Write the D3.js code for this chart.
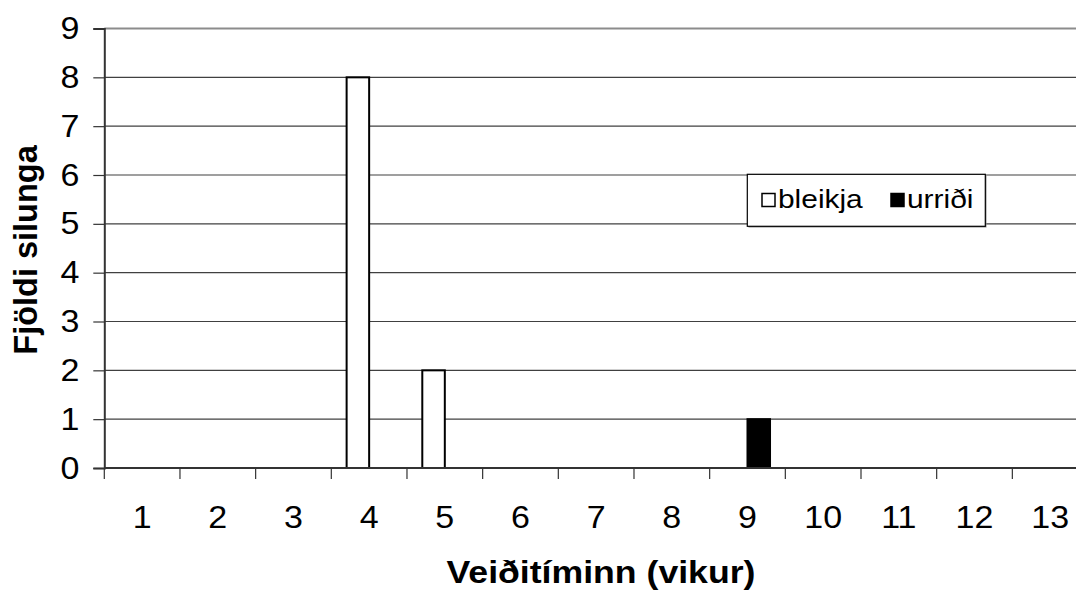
<!DOCTYPE html>
<html>
<head>
<meta charset="utf-8">
<script src="https://cdn.jsdelivr.net/npm/d3@7"></script>
<style>
  html, body { margin: 0; padding: 0; background: #fff; }
  svg { display: block; font-family: Arial, "Liberation Sans", sans-serif; }
</style>
</head>
<body>
<svg id="chart" width="1076" height="592"></svg>
<script>
// Veiðitíminn (vikur) – fjöldi silunga eftir tegund
const weeks = ["1","2","3","4","5","6","7","8","9","10","11","12","13"];
const seriesNames = ["bleikja", "urriði"];
const bleikja = [0,0,0,8,2,0,0,0,0,0,0,0,0];
const urridi  = [0,0,0,0,0,0,0,0,1,0,0,0,0];
const yTicks = [0,1,2,3,4,5,6,7,8,9];
const seriesFill = ["#ffffff", "#000000"];

const svg = d3.select("#chart");
const plotLeft = 104.3, plotBottom = 468, plotTop = 28.5;
const step = 75.67;
const plotRight = plotLeft + step * weeks.length;
const wide = 1.15;     // horizontal widening for upright titles/legend text
const tickWide = 1.08; // horizontal widening for tick labels

const x = d3.scaleBand().domain(weeks).range([plotLeft, plotRight]).paddingInner(0).paddingOuter(0);
const xs = d3.scaleBand().domain(seriesNames).range([0, x.bandwidth()]).paddingInner(0).paddingOuter(0.68);
const y = d3.scaleLinear().domain([0, 9]).range([plotBottom, plotTop]);

// horizontal grid lines
svg.append("g").selectAll("line").data(yTicks.filter(d => d > 0)).join("line")
  .attr("x1", plotLeft).attr("x2", plotRight)
  .attr("y1", d => y(d)).attr("y2", d => y(d))
  .attr("stroke", d => d === 9 ? "#8c8c8c" : "#404040")
  .attr("stroke-width", d => d === 9 ? 2 : 1.2);

// bars
const rows = weeks.map((w, i) => ({ week: w, values: [bleikja[i], urridi[i]] }));
const groups = svg.append("g").selectAll("g").data(rows).join("g")
  .attr("transform", d => `translate(${x(d.week)},0)`);
groups.selectAll("rect")
  .data(d => d.values.map((v, j) => ({ key: seriesNames[j], v, j })).filter(e => e.v > 0))
  .join("rect")
  .attr("x", e => xs(e.key))
  .attr("width", xs.bandwidth())
  .attr("y", e => y(e.v))
  .attr("height", e => y(0) - y(e.v))
  .attr("fill", e => seriesFill[e.j])
  .attr("stroke", "#000")
  .attr("stroke-width", 2);

// y axis
const yAxis = d3.axisLeft(y).tickValues(yTicks).tickSize(11).tickPadding(12).tickFormat(d3.format("d"));
const gy = svg.append("g").attr("transform", `translate(${plotLeft},0)`).call(yAxis);
gy.select(".domain").attr("stroke", "#333").attr("stroke-width", 2);
gy.selectAll(".tick line").attr("stroke", "#333").attr("stroke-width", 1.2);
gy.selectAll(".tick text").attr("font-size", 31.5).attr("fill", "#000")
  .attr("font-family", "Arial, 'Liberation Sans', sans-serif")
  .attr("transform", `scale(${tickWide},1)`);

// x axis: line with ticks at category boundaries
svg.append("line").attr("x1", plotLeft).attr("x2", plotRight).attr("y1", plotBottom).attr("y2", plotBottom)
  .attr("stroke", "#333").attr("stroke-width", 2);
const bounds = weeks.map(w => x(w));
svg.append("g").selectAll("line").data(bounds).join("line")
  .attr("x1", d => d).attr("x2", d => d).attr("y1", plotBottom).attr("y2", plotBottom + 11)
  .attr("stroke", "#333").attr("stroke-width", 1.2);
svg.append("g").selectAll("text").data(weeks).join("text")
  .attr("transform", d => `translate(${x(d) + x.bandwidth() / 2},528) scale(${tickWide},1)`)
  .attr("text-anchor", "middle")
  .attr("font-size", 31.5)
  .text(d => d);

// axis titles
svg.append("text")
  .attr("transform", `translate(601,583) scale(${wide},1)`)
  .attr("text-anchor", "middle")
  .attr("font-size", 31).attr("font-weight", "bold")
  .text("Veiðitíminn (vikur)");
svg.append("text")
  .attr("transform", "translate(36.5,250) rotate(-90)")
  .attr("text-anchor", "middle")
  .attr("font-size", 32.5).attr("font-weight", "bold")
  .text("Fjöldi silunga");

// legend
const lg = svg.append("g");
lg.append("rect").attr("x", 748.5).attr("y", 175.5).attr("width", 238).attr("height", 52)
  .attr("fill", "#8c8c8c");
lg.append("rect").attr("x", 747.3).attr("y", 174.3).attr("width", 238).attr("height", 52)
  .attr("fill", "#fff").attr("stroke", "#000").attr("stroke-width", 1.2);
const legendX = [762, 891];
const li = lg.selectAll("g").data(seriesNames).join("g")
  .attr("transform", (d, i) => `translate(${legendX[i]},0)`);
li.append("rect").attr("x", 0).attr("y", 193.5).attr("width", 13).attr("height", 13)
  .attr("fill", (d, i) => seriesFill[i]).attr("stroke", "#000").attr("stroke-width", 1.5);
li.append("text").attr("transform", `translate(16,208) scale(${wide},1)`)
  .attr("font-size", 26).text(d => d);
</script>
</body>
</html>
